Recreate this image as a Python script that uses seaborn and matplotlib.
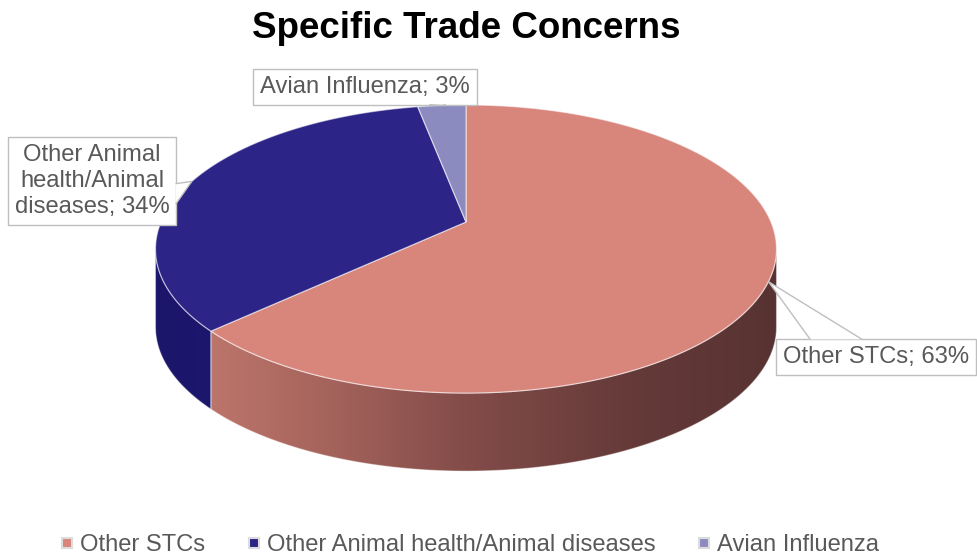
import numpy as np
import matplotlib
matplotlib.use("Agg")
import matplotlib.pyplot as plt
from matplotlib.patches import Polygon
from matplotlib.lines import Line2D
from matplotlib.colors import LinearSegmentedColormap
import seaborn as sns

# --- data -------------------------------------------------------------
categories = ["Other STCs", "Other Animal health/Animal diseases", "Avian Influenza"]
label_names = ["Other STCs", "Other Animal\nhealth/Animal\ndiseases", "Avian Influenza"]
shares = [63, 34, 3]
title = "Specific Trade Concerns"

# --- style ------------------------------------------------------------
sns.set_theme(style="white")
plt.rcParams["font.family"] = ["Liberation Sans", "DejaVu Sans"]

top_colors = sns.color_palette(["#d8857b", "#2c2587", "#8b8bc0"])
side_ramps = [
    ["#c77d72", "#a9665e", "#834c49", "#663b3a", "#583232"],
    ["#1b166a", "#231d7d", "#282186"],
    ["#6f6fa3", "#6f6fa3"],
]
text_color = "#595959"
box_edge = "#bfbfbf"
rim = (1, 1, 1, 0.55)

W, H = 977, 558
fig = plt.figure(figsize=(W / 100, H / 100), dpi=100)
ax = fig.add_axes([0, 0, 1, 1])

# Slice angles come from matplotlib's own pie layout (unit pie, hidden)
wedges, _ = ax.pie(shares, startangle=90, counterclock=False, radius=1.0)
for w in wedges:
    w.set_visible(False)

# Axes in pixel units, y downwards
ax.set_aspect("auto")
ax.set_xlim(0, W)
ax.set_ylim(H, 0)
ax.axis("off")

# Perspective view of the tilted disc
cx, cy, A, B, k = 466, 222, 305, 139, 0.1875
depth = 78


def project(u, v):
    s = 1.0 / (1.0 + k * np.asarray(v))
    return cx + A * np.asarray(u) * s, cy - B * np.asarray(v) * s


def arc(w, a1, a2, n=240):
    phi = np.radians(np.linspace(a1, a2, n))
    return w.center[0] + w.r * np.cos(phi), w.center[1] + w.r * np.sin(phi)


# silhouette of the rim: the wall is visible between these two angles
phi_l = 180 + np.degrees(np.arcsin(k))
phi_r = 360 - np.degrees(np.arcsin(k))
u_all, v_all = arc(wedges[0], 0, 360, 720)
px_all, _ = project(u_all, v_all)
gx0, gx1 = px_all.min(), px_all.max()

# --- front walls ------------------------------------------------------
for w, ramp in zip(wedges, side_ramps):
    for shift in (0, 360, -360):
        lo = max(w.theta1 + shift, phi_l)
        hi = min(w.theta2 + shift, phi_r)
        if hi <= lo:
            continue
        u, v = arc(w, lo, hi)
        xs, ys = project(u, v)
        verts = np.concatenate([
            np.column_stack([xs, ys]),
            np.column_stack([xs[::-1], ys[::-1] + depth]),
        ])
        poly = Polygon(verts, closed=True, facecolor="none",
                       edgecolor=(1, 1, 1, 0.4), linewidth=0.8, zorder=2)
        ax.add_patch(poly)
        cmap = LinearSegmentedColormap.from_list("wall", ramp)
        grad = np.linspace(0, 1, 256)[None, :]
        im = ax.imshow(grad, cmap=cmap, aspect="auto",
                       extent=(gx0, gx1, H, 0), zorder=1.5,
                       interpolation="bilinear")
        im.set_clip_path(poly)

# --- top face -----------------------------------------------------------
for w, c in zip(wedges, top_colors):
    u, v = arc(w, w.theta1, w.theta2)
    xs, ys = project(np.r_[w.center[0], u], np.r_[w.center[1], v])
    ax.add_patch(Polygon(np.column_stack([xs, ys]), closed=True,
                         facecolor=c, edgecolor=rim, linewidth=0.9,
                         zorder=3))

# --- callout labels -----------------------------------------------------
label_centres = [(876, 357), (92, 181), (365, 87)]
# pointer base on the box: side and two fractions along that side
pointer_bases = [("top", 0.17, 0.43), ("right", 0.53, 0.76), ("bottom", 0.79, 0.86)]

texts = []
for name, v, (tx, ty) in zip(label_names, shares, label_centres):
    t = ax.text(tx, ty, f"{name}; {v}%", ha="center", va="center",
                multialignment="center", fontsize=17.1, color=text_color,
                linespacing=1.24, zorder=6,
                bbox=dict(boxstyle="square,pad=0.28", fc="white",
                          ec=box_edge, lw=1.0))
    texts.append(t)

fig.canvas.draw()
inv = ax.transData.inverted()
for t, w, (side, f1, f2) in zip(texts, wedges, pointer_bases):
    bb = t.get_bbox_patch().get_window_extent()
    (x0, y1), (x1, y0) = inv.transform([(bb.x0, bb.y0), (bb.x1, bb.y1)])
    if side == "top":
        b1, b2 = (x0 + f1 * (x1 - x0), y0), (x0 + f2 * (x1 - x0), y0)
    elif side == "bottom":
        b1, b2 = (x0 + f1 * (x1 - x0), y1), (x0 + f2 * (x1 - x0), y1)
    else:
        b1, b2 = (x1, y0 + f1 * (y1 - y0)), (x1, y0 + f2 * (y1 - y0))
    mid = 0.5 * (w.theta1 + w.theta2)
    ax_, ay_ = project(np.cos(np.radians(mid)), np.sin(np.radians(mid)))
    tip = (float(ax_), float(ay_))
    ax.add_patch(Polygon([b1, tip, b2], closed=True, facecolor="white",
                         edgecolor="none", zorder=7))
    ax.plot([b1[0], tip[0], b2[0]], [b1[1], tip[1], b2[1]],
            color=box_edge, lw=1.0, zorder=7.5, solid_joinstyle="miter")

# --- title ----------------------------------------------------------------
fig.text(466 / W, 1 - 28 / H, title, ha="center", va="center",
         fontsize=26.5, fontweight="bold", color="black")

# --- legend ---------------------------------------------------------------
handles = [
    Line2D([], [], marker="s", linestyle="none", markersize=7.2,
           markerfacecolor=c, markeredgecolor="#dcdcdc", markeredgewidth=1.5)
    for c in top_colors
]
leg = fig.legend(handles, categories, loc="center", ncol=3,
                 bbox_to_anchor=(470 / W, 1 - 545 / H),
                 frameon=False, fontsize=17.1, handlelength=0.5,
                 handletextpad=0.3, columnspacing=1.8, borderpad=0)
for t in leg.get_texts():
    t.set_color(text_color)

fig.savefig("out.png", dpi=100, facecolor="white")
